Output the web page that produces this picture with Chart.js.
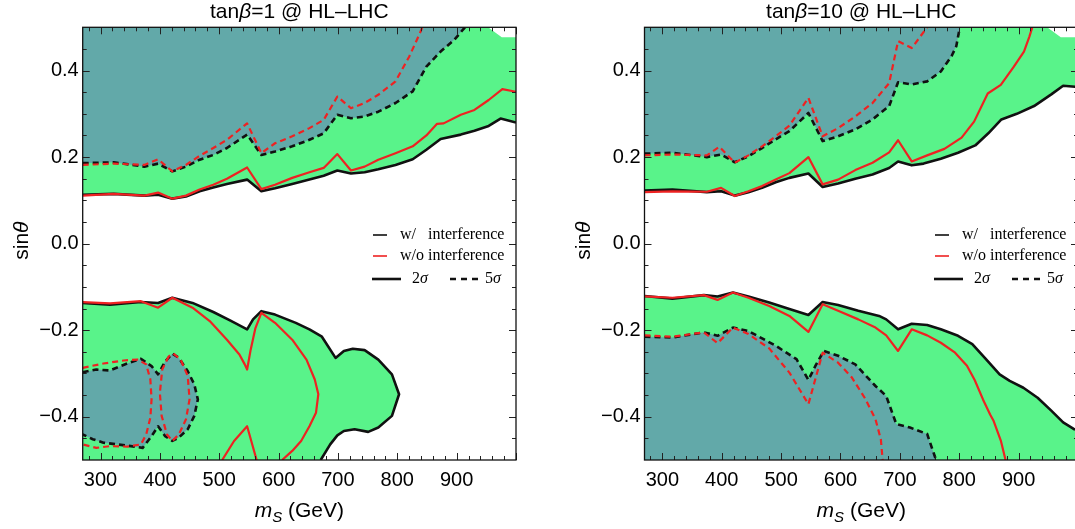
<!DOCTYPE html>
<html><head><meta charset="utf-8">
<script src="https://cdn.jsdelivr.net/npm/chart.js@4.4.1/dist/chart.umd.min.js"></script>
<style>
html,body{margin:0;padding:0;background:#fff;overflow:hidden;width:1075px;height:529px;}
canvas{position:absolute;top:0;}
#c1{left:0px}
#c2{left:540px}
</style></head><body>
<canvas id="c1" width="540" height="529"></canvas>
<canvas id="c2" width="540" height="529"></canvas>
<script>
// ---------- axes ----------
const xRange = [270, 1000];
const yRange = [-0.5, 0.5];
const xMajorTicks = [300, 400, 500, 600, 700, 800, 900];
const yMajorTicks = [-0.4, -0.2, 0, 0.2, 0.4];

// ---------- tan(beta)=1 ----------
const t1UpInt2 = [[270,0.113],[322,0.115],[374,0.111],[397,0.113],[421,0.104],[444,0.109],[467,0.121],[490,0.130],[513,0.138],[547,0.148],[571,0.121],[594,0.128],[623,0.138],[652,0.148],[676,0.157],[699,0.169],[722,0.162],[745,0.165],[768,0.172],[797,0.182],[826,0.195],[849,0.217],[873,0.242],[907,0.252],[930,0.261],[954,0.272],[974,0.289],[1000,0.280]];
const t1UpNoint2 = [[270,0.111],[322,0.115],[374,0.111],[397,0.118],[421,0.104],[444,0.111],[467,0.125],[490,0.136],[513,0.150],[547,0.176],[571,0.126],[594,0.136],[623,0.152],[652,0.165],[676,0.175],[699,0.207],[722,0.169],[745,0.178],[768,0.194],[797,0.209],[826,0.225],[849,0.250],[867,0.277],[878,0.278],[907,0.298],[930,0.309],[954,0.332],[977,0.357],[1000,0.351]];
const t1UpInt5 = [[270,0.186],[322,0.188],[374,0.178],[397,0.185],[421,0.167],[444,0.178],[467,0.194],[490,0.205],[513,0.221],[547,0.252],[571,0.205],[594,0.213],[623,0.225],[652,0.240],[676,0.255],[699,0.298],[722,0.290],[745,0.294],[768,0.305],[797,0.325],[826,0.352],[849,0.409],[873,0.444],[896,0.471],[914,0.5]];
const t1UpNoint5 = [[270,0.182],[322,0.185],[374,0.182],[397,0.195],[421,0.167],[444,0.182],[467,0.203],[490,0.221],[513,0.240],[547,0.278],[571,0.209],[594,0.232],[623,0.248],[652,0.267],[676,0.286],[699,0.340],[722,0.313],[745,0.325],[768,0.344],[797,0.375],[820,0.432],[838,0.486],[842,0.5]];
const t1TopEdge = [[1000,0.477],[976,0.477],[953,0.5]];
const t1LoInt2 = [[270,-0.137],[316,-0.141],[368,-0.135],[397,-0.137],[421,-0.125],[455,-0.137],[490,-0.158],[519,-0.178],[547,-0.198],[557,-0.175],[571,-0.156],[594,-0.164],[629,-0.183],[652,-0.198],[673,-0.215],[696,-0.264],[710,-0.248],[725,-0.243],[745,-0.246],[768,-0.268],[791,-0.302],[803,-0.348],[791,-0.398],[768,-0.425],[751,-0.435],[728,-0.429],[710,-0.433],[699,-0.443],[687,-0.464],[671,-0.5]];
const t1LoNoint2a = [[270,-0.135],[316,-0.138],[368,-0.133],[397,-0.148],[421,-0.125],[455,-0.148],[484,-0.179],[513,-0.222],[534,-0.256],[543,-0.279],[547,-0.291],[553,-0.245],[561,-0.195],[571,-0.160],[594,-0.183],[623,-0.222],[647,-0.268],[661,-0.314],[667,-0.348],[663,-0.391],[652,-0.422],[638,-0.456],[623,-0.479],[606,-0.5]];
const t1LoNoint2b = [[505,-0.5],[525,-0.456],[547,-0.422],[554,-0.456],[563,-0.5]];
const t1LoInt5 = [[270,-0.297],[293,-0.291],[316,-0.293],[345,-0.277],[368,-0.266],[386,-0.283],[397,-0.302],[409,-0.272],[421,-0.254],[432,-0.264],[447,-0.295],[458,-0.325],[464,-0.360],[458,-0.398],[447,-0.429],[432,-0.448],[421,-0.456],[409,-0.445],[397,-0.422],[386,-0.445],[371,-0.472],[351,-0.468],[328,-0.464],[305,-0.460],[287,-0.452],[270,-0.441]];
const t1LoNoint5a = [[270,-0.287],[305,-0.277],[339,-0.270],[363,-0.268],[377,-0.279],[384,-0.314],[386,-0.360],[384,-0.402],[377,-0.441],[368,-0.464],[345,-0.469],[316,-0.468],[293,-0.472],[270,-0.464]];
const t1LoNoint5b = [[415,-0.260],[404,-0.291],[400,-0.345],[403,-0.398],[412,-0.441],[421,-0.456],[432,-0.441],[444,-0.406],[450,-0.360],[447,-0.306],[435,-0.268],[423,-0.254],[415,-0.260]];

// ---------- tan(beta)=10 ----------
const t10UpInt2 = [[270,0.123],[317,0.125],[375,0.119],[399,0.121],[422,0.111],[445,0.119],[468,0.129],[491,0.142],[514,0.152],[546,0.162],[570,0.131],[596,0.139],[625,0.150],[654,0.160],[682,0.175],[697,0.190],[720,0.181],[740,0.185],[769,0.196],[798,0.210],[827,0.227],[849,0.255],[871,0.287],[897,0.300],[926,0.318],[955,0.345],[975,0.365],[1000,0.362]];
const t10UpNoint2 = [[270,0.119],[317,0.121],[375,0.120],[399,0.129],[422,0.110],[445,0.121],[468,0.133],[491,0.148],[514,0.163],[546,0.200],[570,0.137],[596,0.148],[625,0.170],[654,0.187],[682,0.211],[697,0.239],[720,0.190],[746,0.204],[775,0.219],[804,0.245],[825,0.282],[848,0.347],[870,0.367],[892,0.409],[909,0.444],[918,0.478],[923,0.5]];
const t10UpInt5 = [[270,0.208],[317,0.210],[375,0.200],[399,0.206],[422,0.188],[445,0.202],[468,0.221],[491,0.241],[514,0.260],[546,0.302],[570,0.237],[596,0.248],[625,0.264],[654,0.287],[682,0.318],[697,0.373],[720,0.368],[746,0.375],[769,0.398],[787,0.433],[795,0.456],[801,0.5]];
const t10UpNoint5 = [[270,0.204],[317,0.206],[375,0.204],[396,0.224],[422,0.187],[445,0.204],[468,0.225],[491,0.248],[514,0.273],[546,0.337],[570,0.248],[596,0.267],[625,0.294],[654,0.325],[682,0.371],[697,0.468],[720,0.452],[746,0.5]];
const t10TopEdge = [[1000,0.477],[971,0.477],[948,0.5]];
const t10LoInt2 = [[270,-0.121],[317,-0.127],[370,-0.119],[393,-0.122],[419,-0.113],[445,-0.122],[480,-0.136],[514,-0.151],[546,-0.165],[570,-0.135],[596,-0.142],[630,-0.155],[665,-0.167],[677,-0.175],[697,-0.198],[720,-0.185],[746,-0.188],[769,-0.198],[798,-0.213],[822,-0.232],[845,-0.267],[868,-0.302],[885,-0.317],[908,-0.333],[932,-0.356],[955,-0.386],[975,-0.413],[994,-0.429],[1000,-0.430]];
const t10LoNoint2 = [[270,-0.122],[317,-0.125],[370,-0.119],[393,-0.130],[419,-0.113],[445,-0.125],[480,-0.144],[514,-0.167],[546,-0.204],[570,-0.140],[596,-0.155],[630,-0.175],[659,-0.194],[677,-0.212],[697,-0.248],[720,-0.198],[746,-0.212],[769,-0.229],[793,-0.252],[813,-0.282],[826,-0.315],[840,-0.360],[852,-0.395],[858,-0.410],[870,-0.455],[878,-0.5]];
const t10LoInt5 = [[270,-0.215],[317,-0.217],[370,-0.205],[393,-0.213],[419,-0.194],[445,-0.202],[491,-0.236],[526,-0.267],[546,-0.315],[558,-0.282],[572,-0.248],[596,-0.259],[625,-0.279],[659,-0.329],[677,-0.352],[694,-0.417],[717,-0.425],[746,-0.440],[761,-0.5]];
const t10LoNoint5 = [[270,-0.212],[317,-0.215],[370,-0.205],[393,-0.230],[419,-0.194],[445,-0.209],[480,-0.242],[514,-0.298],[546,-0.371],[570,-0.252],[596,-0.275],[619,-0.309],[642,-0.359],[659,-0.406],[668,-0.452],[671,-0.5]];

// ---------- styles ----------
const GREEN = '#59F38A', TEAL = '#62A9A9', RED = '#EE2222', BLACK = '#111111';
const SANS = "'Liberation Sans', Arial, sans-serif";
const SERIF = "'Liberation Serif', 'Times New Roman', serif";

const pts = a => a.map(([x, y]) => ({x, y}));
function fillDs(poly, color) {
  return {data: pts(poly), showLine: true, fill: 'shape', backgroundColor: color,
    borderWidth: 0, borderColor: 'rgba(0,0,0,0)', pointRadius: 0, pointHoverRadius: 0, tension: 0, clip: 0};
}
function lineDs(curve, color, width, dash) {
  return {data: pts(curve), showLine: true, fill: false, borderColor: color, borderWidth: width,
    borderDash: dash || [], pointRadius: 0, pointHoverRadius: 0, tension: 0, clip: 0, borderJoinStyle: 'round'};
}

function drawSegs(ctx, segs, x, y, align) {
  let total = 0;
  for (const s of segs) { ctx.font = s[1]; total += ctx.measureText(s[0]).width; }
  let cx = align === 'center' ? x - total / 2 : x;
  for (const s of segs) { ctx.font = s[1]; ctx.fillText(s[0], cx, y + (s[2] || 0)); cx += ctx.measureText(s[0]).width; }
}

const decor = {
  id: 'decor',
  afterDatasetsDraw(chart) {
    const {ctx, chartArea: a, scales: {x, y}} = chart;
    const P = chart.options.plugins.decor;
    ctx.save();
    // ticks (inside, all four sides)
    ctx.strokeStyle = '#222'; ctx.lineWidth = 1;
    ctx.beginPath();
    for (let v = 280; v <= 1000; v += 20) {
      const px = Math.round(x.getPixelForValue(v)) + 0.5;
      const len = v % 100 === 0 ? 7 : 4;
      ctx.moveTo(px, a.bottom); ctx.lineTo(px, a.bottom - len);
      ctx.moveTo(px, a.top); ctx.lineTo(px, a.top + len);
    }
    for (let k = -9; k <= 9; k++) {
      const py = Math.round(y.getPixelForValue(k * 0.05)) + 0.5;
      const len = k % 4 === 0 ? 7 : 4;
      ctx.moveTo(a.left, py); ctx.lineTo(a.left + len, py);
      ctx.moveTo(a.right, py); ctx.lineTo(a.right - len, py);
    }
    ctx.stroke();
    ctx.lineWidth = 1.3; ctx.strokeStyle = '#111';
    ctx.strokeRect(a.left, a.top, a.right - a.left, a.bottom - a.top);

    // legend
    const R = a.right;
    const r1 = a.top + 207.7, r2 = a.top + 228.7, r3 = a.top + 251.7;
    ctx.lineWidth = 1.6;
    ctx.strokeStyle = BLACK; ctx.beginPath(); ctx.moveTo(R - 143, r1); ctx.lineTo(R - 129, r1); ctx.stroke();
    ctx.strokeStyle = RED; ctx.beginPath(); ctx.moveTo(R - 143, r2); ctx.lineTo(R - 129, r2); ctx.stroke();
    ctx.lineWidth = 2.6; ctx.strokeStyle = BLACK;
    ctx.beginPath(); ctx.moveTo(R - 144, r3); ctx.lineTo(R - 115, r3); ctx.stroke();
    ctx.setLineDash([6, 5]);
    ctx.beginPath(); ctx.moveTo(R - 66, r3); ctx.lineTo(R - 38, r3); ctx.stroke();
    ctx.setLineDash([]);
    ctx.fillStyle = '#000'; ctx.textBaseline = 'middle'; ctx.textAlign = 'left';
    const f16 = '16px ' + SERIF, f16i = 'italic 16px ' + SERIF;
    drawSegs(ctx, [['w/   interference', f16]], R - 116, r1, 'left');
    drawSegs(ctx, [['w/o interference', f16]], R - 116, r2, 'left');
    drawSegs(ctx, [['2', f16], ['σ', f16i]], R - 104, r3, 'left');
    drawSegs(ctx, [['5', f16], ['σ', f16i]], R - 31, r3, 'left');

    // titles
    ctx.textBaseline = 'alphabetic';
    const f21 = '21px ' + SANS, f21i = 'italic 21px ' + SANS;
    const cx = (a.left + a.right) / 2;
    drawSegs(ctx, [[P.title[0], f21], [P.title[1], f21i], [P.title[2], f21]], cx, a.top - 9, 'center');
    drawSegs(ctx, [['m', f21i], ['S', 'italic 15px ' + SANS, 4.5], [' (GeV)', f21]], cx, a.bottom + 57, 'center');
    ctx.save();
    ctx.translate(a.left - 54.4, (a.top + a.bottom) / 2 - 3);
    ctx.rotate(-Math.PI / 2);
    drawSegs(ctx, [['sin', f21], ['θ', f21i]], 0, 0, 'center');
    ctx.restore();
    ctx.restore();
  }
};

const fmtY = v => (v < 0 ? '−' : '') + Math.abs(v).toFixed(1);

function makeChart(id, P) {
  const list = [
    fillDs([...P.up2, ...P.topEdge, [xRange[0], yRange[1]]], GREEN),
    fillDs([...P.up5, [xRange[0], yRange[1]]], TEAL),
    fillDs(P.loGreen, GREEN),
    fillDs(P.loTeal, TEAL),
    ...P.blackSolid.map(c => lineDs(c, BLACK, 2.6)),
    ...P.blackDash.map(c => lineDs(c, BLACK, 2.6, [6, 4])),
    ...P.redSolid.map(c => lineDs(c, RED, 2.2)),
    ...P.redDash.map(c => lineDs(c, RED, 2.2, [6, 4]))
  ];
  list.forEach((d, i) => { d.order = list.length - i; });
  return new Chart(document.getElementById(id), {
    type: 'scatter',
    data: {datasets: list},
    plugins: [decor],
    options: {
      responsive: false, animation: false, devicePixelRatio: 1, events: [],
      layout: {padding: {left: 0, right: P.padRight, top: 27.3, bottom: 0}},
      plugins: {legend: {display: false}, tooltip: {enabled: false}, title: {display: false}, decor: {title: P.title}},
      scales: {
        x: {type: 'linear', min: xRange[0], max: xRange[1],
          afterBuildTicks: s => { s.ticks = xMajorTicks.map(v => ({value: v})); },
          afterFit: s => { s.height = 69; },
          grid: {display: false, drawTicks: false}, border: {display: false},
          ticks: {color: '#000', font: {family: SANS, size: 20}, padding: 8, maxRotation: 0, autoSkip: false}},
        y: {type: 'linear', min: yRange[0], max: yRange[1],
          afterBuildTicks: s => { s.ticks = yMajorTicks.map(v => ({value: v})); },
          afterFit: s => { s.width = P.yAxisW; },
          grid: {display: false, drawTicks: false}, border: {display: false},
          ticks: {color: '#000', font: {family: SANS, size: 20}, padding: 4, callback: v => fmtY(v), autoSkip: false}}
      }
    }
  });
}

makeChart('c1', {
  title: ['tan', 'β', '=1 @ HL–LHC'], yAxisW: 82.7, padRight: 24,
  up2: t1UpInt2, topEdge: t1TopEdge, up5: t1UpInt5,
  loGreen: [...t1LoInt2, [xRange[0], yRange[0]]], loTeal: t1LoInt5,
  blackSolid: [t1UpInt2, t1LoInt2], blackDash: [t1UpInt5, t1LoInt5],
  redSolid: [t1UpNoint2, t1LoNoint2a, t1LoNoint2b], redDash: [t1UpNoint5, t1LoNoint5a, t1LoNoint5b]
});
makeChart('c2', {
  title: ['tan', 'β', '=10 @ HL–LHC'], yAxisW: 104.5, padRight: 2,
  up2: t10UpInt2, topEdge: t10TopEdge, up5: t10UpInt5,
  loGreen: [...t10LoInt2, [xRange[1], yRange[0]], [xRange[0], yRange[0]]], loTeal: [...t10LoInt5, [xRange[0], yRange[0]]],
  blackSolid: [t10UpInt2, t10LoInt2], blackDash: [t10UpInt5, t10LoInt5],
  redSolid: [t10UpNoint2, t10LoNoint2], redDash: [t10UpNoint5, t10LoNoint5]
});
</script></body></html>
